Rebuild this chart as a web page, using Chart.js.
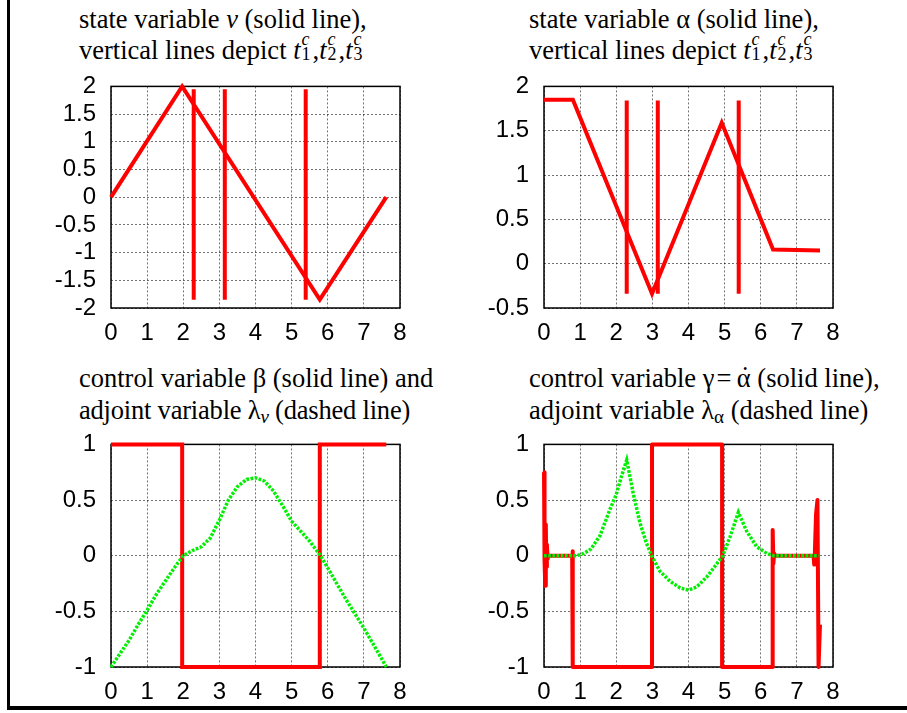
<!DOCTYPE html>
<html>
<head>
<meta charset="utf-8">
<script src="https://cdn.jsdelivr.net/npm/chart.js@4.4.0/dist/chart.umd.min.js"></script>
<style>
  body { margin: 0; background: #fff; width: 907px; height: 713px; position: relative; overflow: hidden; }
  canvas { position: absolute; }
  .frameLeft { position: absolute; left: 7px; top: 0; width: 3px; height: 710px; background: #000; }
  .frameBottom { position: absolute; left: 7px; top: 706px; width: 900px; height: 4px; background: #000; }
  .title { position: absolute; font-family: 'Liberation Serif', 'Times New Roman', serif; font-size: 26.5px;
           line-height: 26.5px; white-space: nowrap; color: #000; }
  .tight { letter-spacing: -0.2px; }
  .ss { display: inline-block; position: relative; width: 11px; height: 0; margin-left: 1px; }
  .ss .sp, .ss .sb { position: absolute; left: 0; font-size: 18px; line-height: 18px; }
  .ss .sp { top: -29px; }
  .ss .sb { top: -14px; }
  .sub { font-size: 19px; position: relative; top: 4px; }
  .dotted { position: relative; }
  .dotted .dot { position: absolute; left: 4px; top: 0; }
</style>
</head>
<body>
<div class="frameLeft"></div>
<div class="frameBottom"></div>

<div class="title" style="left:79px; top:6px;">state variable <i>v</i> (solid line),</div>
<div class="title" style="left:79px; top:37px;">vertical lines depict <i>t</i><span class="ss"><i class="sp">c</i><span class="sb">1</span></span>,<i>t</i><span class="ss"><i class="sp">c</i><span class="sb">2</span></span>,<i>t</i><span class="ss"><i class="sp">c</i><span class="sb">3</span></span></div>

<div class="title" style="left:529px; top:6px;">state variable α (solid line),</div>
<div class="title" style="left:529px; top:37px;">vertical lines depict <i>t</i><span class="ss"><i class="sp">c</i><span class="sb">1</span></span>,<i>t</i><span class="ss"><i class="sp">c</i><span class="sb">2</span></span>,<i>t</i><span class="ss"><i class="sp">c</i><span class="sb">3</span></span></div>

<div class="title" style="left:79px; top:364.5px;">control variable β (solid line) and</div>
<div class="title tight" style="left:79px; top:396.5px;">adjoint variable λ<i class="sub">v</i> (dashed line)</div>

<div class="title" style="left:529px; top:364.5px;">control variable γ&#8202;=&#8201;<span class="dotted">α<span class="dot">˙</span></span> (solid line),</div>
<div class="title" style="left:529px; top:396.5px;">adjoint variable λ<span class="sub">α</span> (dashed line)</div>

<canvas id="chartV" width="389" height="296" style="left:36px; top:57px;"></canvas>
<canvas id="chartAlpha" width="389" height="296" style="left:469px; top:57px;"></canvas>
<canvas id="chartBeta" width="389" height="297" style="left:36px; top:415px;"></canvas>
<canvas id="chartGamma" width="389" height="297" style="left:469px; top:415px;"></canvas>

<script>
// tick values
const xTicks = [0, 1, 2, 3, 4, 5, 6, 7, 8];
const yTicksV = [-2, -1.5, -1, -0.5, 0, 0.5, 1, 1.5, 2];
const yTicksAlpha = [-0.5, 0, 0.5, 1, 1.5, 2];
const yTicksControl = [-1, -0.5, 0, 0.5, 1];

// switching times t1c, t2c, t3c and the extent of their marker lines
const switchTimes = [2.29, 3.15, 5.39];
const switchSpanV = [-1.85, 1.95];
const switchSpanAlpha = [-0.34, 1.84];

// state v
const vTime = [0, 1.97, 5.78, 7.62];
const vValue = [0, 2, -1.85, 0];

// state alpha
const alphaTime = [0, 0.8, 2.99, 4.92, 6.34, 7.64];
const alphaValue = [1.85, 1.85, -0.34, 1.59, 0.16, 0.15];

// control beta
const betaTime = [0, 1.97, 1.97, 5.78, 5.78, 7.62];
const betaValue = [1, 1, -1, -1, 1, 1];

// adjoint lambda_v
const lamVTime = [0, 0.25, 0.5, 0.75, 1, 1.25, 1.5, 1.75, 2, 2.25, 2.5, 2.75, 3, 3.25, 3.5, 3.75, 4,
                  4.25, 4.5, 4.75, 5, 5.25, 5.5, 5.8, 6, 6.25, 6.5, 6.75, 7, 7.25, 7.5, 7.62];
const lamVValue = [-1, -0.88, -0.76, -0.62, -0.49, -0.35, -0.23, -0.11, 0, 0.045, 0.08, 0.16, 0.32, 0.5, 0.62, 0.685, 0.7,
                   0.67, 0.58, 0.45, 0.31, 0.22, 0.13, 0, -0.11, -0.25, -0.39, -0.52, -0.65, -0.79, -0.93, -1];

// control gamma = d(alpha)/dt
const gammaTime = [0, 0.01, 0.02, 0.035, 0.05, 0.065, 0.08, 0.1, 0.12, 0.78, 0.79, 0.8, 2.99, 2.99, 4.93, 4.93,
                   6.33, 6.33, 6.35, 6.37, 6.4, 7.46, 7.48, 7.5, 7.53, 7.57, 7.6, 7.64];
const gammaValue = [0.75, 0.2, -0.05, -0.27, 0.28, -0.1, 0.1, -0.03, 0, 0, 0.04, -1, -1, 1, 1, -1,
                    -1, 0.23, -0.07, 0.02, 0, 0, -0.08, 0.05, 0.37, 0.5, -1, -0.62];

// adjoint lambda_alpha
const lamATime = [0, 0.5, 0.9, 1.1, 1.3, 1.55, 1.83, 2.0, 2.15, 2.29, 2.47, 2.66, 2.84, 2.98, 3.21, 3.49, 3.77, 4.0,
                  4.23, 4.51, 4.79, 4.95, 5.15, 5.38, 5.61, 5.89, 6.17, 6.35, 7.0, 7.6];
const lamAValue = [0, 0, 0, 0.02, 0.06, 0.18, 0.42, 0.55, 0.72, 0.86, 0.56, 0.29, 0.11, 0, -0.14, -0.23, -0.29, -0.31,
                   -0.28, -0.19, -0.07, 0, 0.17, 0.39, 0.22, 0.08, 0.02, 0, 0, 0];

const RED = '#ff0000';
const GREEN = '#00ee00';
const tickFont = { family: 'Liberation Sans', size: 24 };

function toPoints(xs, ys) {
    return xs.map((x, i) => ({ x: x, y: ys[i] }));
}

function solid(xs, ys, join) {
    return { data: toPoints(xs, ys), borderColor: RED, borderWidth: 4, borderJoinStyle: join || 'miter',
             showLine: true, pointRadius: 0, clip: false };
}

function dashed(xs, ys) {
    return { data: toPoints(xs, ys), borderColor: GREEN, borderWidth: 3.5, borderDash: [2.7, 1.5],
             showLine: true, pointRadius: 0, clip: false };
}

function switchLines(span) {
    return switchTimes.map(t => solid([t, t], span));
}

// gnuplot style box around the plot area
const frameBox = {
    id: 'frameBox',
    beforeDatasetsDraw(chart) {
        const { ctx, chartArea: a } = chart;
        ctx.save();
        ctx.strokeStyle = '#000';
        ctx.lineWidth = 1.5;
        ctx.strokeRect(a.left, a.top, a.right - a.left, a.bottom - a.top);
        ctx.restore();
    }
};

function axis(ticks, min, max, isX) {
    return {
        type: 'linear', min: min, max: max,
        afterBuildTicks: s => { s.ticks = ticks.map(v => ({ value: v })); },
        afterFit: s => { if (isX) s.height = 45; else s.width = 75; },
        grid: { color: 'rgba(0,0,0,0.55)', lineWidth: 1, drawTicks: false },
        border: { display: false, dash: [2, 2] },
        ticks: { font: tickFont, color: '#000', padding: isX ? 11 : 15, maxRotation: 0, autoSkip: false,
                 callback: v => String(v) }
    };
}

function makeChart(id, yTicks, datasets) {
    // plot area starts below the top y label + its padding (~29px into the canvas)
    return new Chart(document.getElementById(id), {
        type: 'scatter',
        data: { datasets: datasets },
        options: {
            responsive: false,
            animation: false,
            layout: { padding: { top: 0, right: 25, left: 0, bottom: 0 } },
            plugins: { legend: { display: false }, tooltip: { enabled: false } },
            scales: {
                x: axis(xTicks, 0, 8, true),
                y: axis(yTicks, yTicks[0], yTicks[yTicks.length - 1], false)
            }
        },
        plugins: [frameBox]
    });
}

makeChart('chartV', yTicksV, [solid(vTime, vValue)].concat(switchLines(switchSpanV)));
makeChart('chartAlpha', yTicksAlpha, [solid(alphaTime, alphaValue)].concat(switchLines(switchSpanAlpha)));
makeChart('chartBeta', yTicksControl, [dashed(lamVTime, lamVValue), solid(betaTime, betaValue)]);
makeChart('chartGamma', yTicksControl, [dashed(lamATime, lamAValue), solid(gammaTime, gammaValue, 'round')]);
</script>
</body>
</html>
